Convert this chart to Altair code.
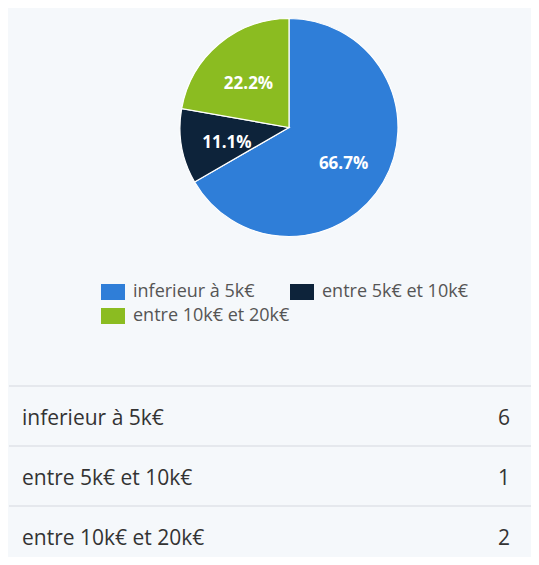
import altair as alt
import pandas as pd

categories = ["inferieur à 5k€", "entre 5k€ et 10k€", "entre 10k€ et 20k€"]
counts = [6, 1, 2]
colors = ["#2f7ed8", "#0d233a", "#8bbc21"]

df = pd.DataFrame({"cat": categories, "n": counts, "idx": list(range(len(categories)))})

base = alt.Chart(df).transform_joinaggregate(total="sum(n)").transform_calculate(
    pct="datum.n / datum.total"
)

cx, cy, R = 281, 119.5, 109

color = alt.Color(
    "cat:N",
    scale=alt.Scale(domain=categories, range=colors),
    legend=alt.Legend(
        title=None,
        orient="none",
        legendX=96,
        legendY=275,
        direction="horizontal",
        columns=2,
        gridAlign="none",
        columnPadding=0,
        rowPadding=6,
        symbolType="M-1.5,-1H1.5V1H-1.5Z",
        symbolSize=256,
        symbolStrokeWidth=0,
        symbolOpacity=1,
        labelFont="Open Sans",
        labelFontSize=18,
        labelColor="#555555",
        labelOffset=11,
        labelLimit=300,
        padding=0,
    ),
)

pie = base.mark_arc(outerRadius=R, stroke="white", strokeWidth=1.2).encode(
    theta=alt.Theta("n:Q", stack=True),
    order=alt.Order("idx:Q"),
    color=color,
    x=alt.value(cx),
    y=alt.value(cy),
)

pie_labels = base.mark_text(
    radius=63, dy=5, font="Open Sans", fontSize=17, fontWeight="bold", color="white"
).encode(
    theta=alt.Theta("n:Q", stack=True),
    order=alt.Order("idx:Q"),
    text=alt.Text("pct:Q", format=".1%"),
    x=alt.value(cx),
    y=alt.value(cy),
)

yscale = alt.Scale(domain=categories, range=[378, 558], paddingInner=0, paddingOuter=0)

rules = alt.Chart(df).mark_rule(color="#dfe3e8", strokeWidth=1.5).encode(
    y=alt.Y("cat:N", scale=yscale, axis=None, bandPosition=0),
    x=alt.value(1),
    x2=alt.value(531),
)

row_names = alt.Chart(df).mark_text(
    align="left", baseline="middle", dy=3, font="Open Sans", fontSize=21, color="#333333"
).encode(
    y=alt.Y("cat:N", scale=yscale, axis=None),
    x=alt.value(14),
    text="cat:N",
)

row_vals = alt.Chart(df).mark_text(
    align="right", baseline="middle", dy=3, font="Open Sans", fontSize=21, color="#333333"
).encode(
    y=alt.Y("cat:N", scale=yscale, axis=None),
    x=alt.value(502),
    text="n:Q",
)

chart = alt.layer(pie, pie_labels, rules, row_names, row_vals).properties(
    width=523,
    height=549,
    autosize=alt.AutoSizeParams(type="none"),
    padding=0,
    background="#f5f8fb",
).configure_view(stroke=None)

chart.save("out.html", embed_options={"renderer": "svg", "actions": False})
